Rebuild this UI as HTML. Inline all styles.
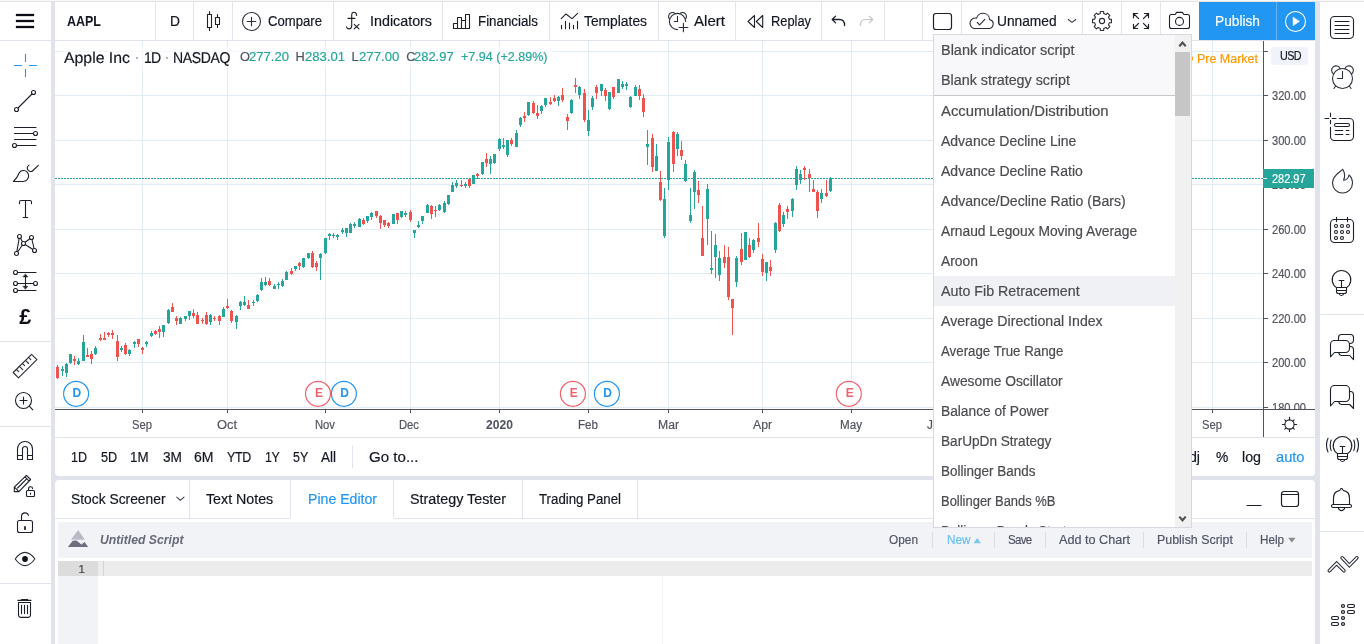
<!DOCTYPE html>
<html lang="en"><head><meta charset="utf-8"><title>AAPL 282.97 — TradingView</title>
<style>
html,body{margin:0;padding:0;}
body{width:1364px;height:644px;overflow:hidden;background:#e0e3eb;position:relative;font-family:"Liberation Sans", "DejaVu Sans", sans-serif;}
.t{position:absolute;white-space:nowrap;line-height:20px;-webkit-text-stroke:0.18px currentColor;}
svg{position:absolute;overflow:visible;}
</style></head>
<body>
<div style="position:absolute;left:0px;top:0px;width:1364px;height:1px;background:#f8f8f8;"></div>
<div style="position:absolute;left:0px;top:1px;width:1364px;height:1px;background:#e2e2e2;"></div>
<div style="position:absolute;left:0px;top:2px;width:51px;height:642px;background:#fff;"></div>
<div style="position:absolute;left:0px;top:40px;width:51px;height:1px;background:#e0e3eb;"></div>
<div style="position:absolute;left:0px;top:341px;width:51px;height:1px;background:#e0e3eb;"></div>
<div style="position:absolute;left:0px;top:426px;width:51px;height:1px;background:#e0e3eb;"></div>
<div style="position:absolute;left:0px;top:583px;width:51px;height:1px;background:#e0e3eb;"></div>
<div style="position:absolute;left:55px;top:2px;width:1260px;height:38px;background:#fff;"></div>
<div style="position:absolute;left:55px;top:40px;width:1260px;height:1px;background:#e0e3eb;"></div>
<div style="position:absolute;left:155px;top:2px;width:1px;height:38px;background:#e0e3eb;"></div>
<div style="position:absolute;left:193px;top:2px;width:1px;height:38px;background:#e0e3eb;"></div>
<div style="position:absolute;left:232px;top:2px;width:1px;height:38px;background:#e0e3eb;"></div>
<div style="position:absolute;left:333px;top:2px;width:1px;height:38px;background:#e0e3eb;"></div>
<div style="position:absolute;left:442px;top:2px;width:1px;height:38px;background:#e0e3eb;"></div>
<div style="position:absolute;left:549px;top:2px;width:1px;height:38px;background:#e0e3eb;"></div>
<div style="position:absolute;left:658px;top:2px;width:1px;height:38px;background:#e0e3eb;"></div>
<div style="position:absolute;left:735px;top:2px;width:1px;height:38px;background:#e0e3eb;"></div>
<div style="position:absolute;left:821px;top:2px;width:1px;height:38px;background:#e0e3eb;"></div>
<div style="position:absolute;left:884px;top:2px;width:1px;height:38px;background:#e0e3eb;"></div>
<div style="position:absolute;left:922px;top:2px;width:1px;height:38px;background:#e0e3eb;"></div>
<div style="position:absolute;left:961px;top:2px;width:1px;height:38px;background:#e0e3eb;"></div>
<div style="position:absolute;left:1082px;top:2px;width:1px;height:38px;background:#e0e3eb;"></div>
<div style="position:absolute;left:1121px;top:2px;width:1px;height:38px;background:#e0e3eb;"></div>
<div style="position:absolute;left:1160px;top:2px;width:1px;height:38px;background:#e0e3eb;"></div>
<div style="position:absolute;left:1199px;top:2px;width:77px;height:38px;background:#2196f3;"></div>
<div style="position:absolute;left:1276px;top:2px;width:1px;height:38px;background:#64b5f6;"></div>
<div style="position:absolute;left:1277px;top:2px;width:38px;height:38px;background:#2196f3;"></div>
<div style="position:absolute;left:55px;top:41px;width:1260px;height:396px;background:#fff;"></div>
<div style="position:absolute;left:55px;top:437px;width:1260px;height:1px;background:#e0e3eb;"></div>
<div style="position:absolute;left:55px;top:438px;width:1260px;height:38px;background:#fff;border-radius:0 0 4px 4px;"></div>
<div style="position:absolute;left:55px;top:480px;width:1260px;height:164px;background:#fff;border-radius:4px 4px 0 0;"></div>
<div style="position:absolute;left:55px;top:518px;width:235px;height:1px;background:#e0e3eb;"></div>
<div style="position:absolute;left:394px;top:518px;width:921px;height:1px;background:#e0e3eb;"></div>
<div style="position:absolute;left:189px;top:480px;width:1px;height:38px;background:#e0e3eb;"></div>
<div style="position:absolute;left:290px;top:480px;width:1px;height:38px;background:#e0e3eb;"></div>
<div style="position:absolute;left:393px;top:480px;width:1px;height:38px;background:#e0e3eb;"></div>
<div style="position:absolute;left:522px;top:480px;width:1px;height:38px;background:#e0e3eb;"></div>
<div style="position:absolute;left:637px;top:480px;width:1px;height:38px;background:#e0e3eb;"></div>
<div style="position:absolute;left:58px;top:522px;width:1254px;height:36px;background:#f1f3f6;"></div>
<div style="position:absolute;left:58px;top:561px;width:40px;height:83px;background:#f1f3f6;"></div>
<div style="position:absolute;left:58px;top:561px;width:1254px;height:15px;background:#ececec;"></div>
<div style="position:absolute;left:58px;top:561px;width:40px;height:15px;background:#dcdcdc;"></div>
<div style="position:absolute;left:103px;top:561px;width:1px;height:15px;background:#d4d4d4;"></div>
<div style="position:absolute;left:662px;top:576px;width:1px;height:68px;background:#f3f3f3;"></div>
<div style="position:absolute;left:1320px;top:2px;width:44px;height:642px;background:#fff;"></div>
<div style="position:absolute;left:1320px;top:314px;width:44px;height:1px;background:#e0e3eb;"></div>
<div style="position:absolute;left:1320px;top:531px;width:44px;height:1px;background:#e0e3eb;"></div>
<svg width="1260" height="397" style="left:55px;top:41px;overflow:hidden" viewBox="55 41 1260 397" shape-rendering="crispEdges">
<rect x="142" y="41" width="1" height="368" fill="#e1ecf2"/>
<rect x="227" y="41" width="1" height="368" fill="#e1ecf2"/>
<rect x="325" y="41" width="1" height="368" fill="#e1ecf2"/>
<rect x="410" y="41" width="1" height="368" fill="#e1ecf2"/>
<rect x="499" y="41" width="1" height="368" fill="#e1ecf2"/>
<rect x="588" y="41" width="1" height="368" fill="#e1ecf2"/>
<rect x="668" y="41" width="1" height="368" fill="#e1ecf2"/>
<rect x="762" y="41" width="1" height="368" fill="#e1ecf2"/>
<rect x="851" y="41" width="1" height="368" fill="#e1ecf2"/>
<rect x="936" y="41" width="1" height="368" fill="#e1ecf2"/>
<rect x="1030" y="41" width="1" height="368" fill="#e1ecf2"/>
<rect x="1123" y="41" width="1" height="368" fill="#e1ecf2"/>
<rect x="1212" y="41" width="1" height="368" fill="#e1ecf2"/>
<rect x="55" y="51" width="1208" height="1" fill="#e1ecf2"/>
<rect x="55" y="95" width="1208" height="1" fill="#e1ecf2"/>
<rect x="55" y="140" width="1208" height="1" fill="#e1ecf2"/>
<rect x="55" y="184" width="1208" height="1" fill="#e1ecf2"/>
<rect x="55" y="229" width="1208" height="1" fill="#e1ecf2"/>
<rect x="55" y="273" width="1208" height="1" fill="#e1ecf2"/>
<rect x="55" y="318" width="1208" height="1" fill="#e1ecf2"/>
<rect x="55" y="362" width="1208" height="1" fill="#e1ecf2"/>
<rect x="55" y="407" width="1208" height="1" fill="#e1ecf2"/>
<rect x="62" y="47" width="490" height="21" fill="#fff" fill-opacity="0.6"/>
<line x1="55" x2="1263" y1="178.5" y2="178.5" stroke="#26a69a" stroke-width="1" stroke-dasharray="2 1"/>
<path fill="#26a69a" d="M62 366h1v10h-1zM61 369h3v2h-3zM66 363h1v14h-1zM65 364h3v9h-3zM70 354h1v10h-1zM69 354h3v9h-3zM78 358h1v7h-1zM77 361h3v3h-3zM83 335h1v26h-1zM82 342h3v19h-3zM95 346h1v9h-1zM94 348h3v6h-3zM121 346h1v6h-1zM120 348h3v2h-3zM129 349h1v7h-1zM128 350h3v4h-3zM134 341h1v7h-1zM133 342h3v2h-3zM146 341h1v6h-1zM145 342h3v2h-3zM151 331h1v6h-1zM150 333h3v3h-3zM163 325h1v12h-1zM162 325h3v7h-3zM168 309h1v15h-1zM167 310h3v13h-3zM180 317h1v7h-1zM179 318h3v6h-3zM185 316h1v5h-1zM184 316h3v3h-3zM189 311h1v9h-1zM188 311h3v5h-3zM210 314h1v11h-1zM209 315h3v7h-3zM223 307h1v10h-1zM222 309h3v8h-3zM236 315h1v14h-1zM235 316h3v6h-3zM240 301h1v9h-1zM239 302h3v4h-3zM244 296h1v10h-1zM243 302h3v3h-3zM253 300h1v6h-1zM252 302h3v1h-3zM257 294h1v8h-1zM256 295h3v6h-3zM261 278h1v13h-1zM260 282h3v8h-3zM265 277h1v9h-1zM264 282h3v3h-3zM274 284h1v5h-1zM273 286h3v3h-3zM278 282h1v7h-1zM277 284h3v1h-3zM282 279h1v8h-1zM281 281h3v5h-3zM286 271h1v9h-1zM285 272h3v8h-3zM295 266h1v5h-1zM294 266h3v3h-3zM303 258h1v10h-1zM302 258h3v9h-3zM308 253h1v6h-1zM307 253h3v5h-3zM320 253h1v27h-1zM319 254h3v4h-3zM325 238h1v16h-1zM324 238h3v15h-3zM329 233h1v7h-1zM328 234h3v2h-3zM333 233h1v5h-1zM332 235h3v1h-3zM337 234h1v6h-1zM336 235h3v2h-3zM342 228h1v6h-1zM341 230h3v2h-3zM346 228h1v9h-1zM345 228h3v5h-3zM350 223h1v10h-1zM349 224h3v9h-3zM354 222h1v6h-1zM353 224h3v2h-3zM359 218h1v9h-1zM358 219h3v8h-3zM367 216h1v7h-1zM366 216h3v5h-3zM371 212h1v8h-1zM370 213h3v4h-3zM393 214h1v10h-1zM392 214h3v10h-3zM401 211h1v7h-1zM400 211h3v6h-3zM405 211h1v6h-1zM404 213h3v2h-3zM414 230h1v8h-1zM413 230h3v3h-3zM418 221h1v7h-1zM417 225h3v2h-3zM422 216h1v8h-1zM421 216h3v5h-3zM427 204h1v9h-1zM426 205h3v8h-3zM439 204h1v7h-1zM438 205h3v5h-3zM444 201h1v12h-1zM443 203h3v9h-3zM448 195h1v10h-1zM447 195h3v9h-3zM452 182h1v10h-1zM451 185h3v7h-3zM456 180h1v8h-1zM455 183h3v3h-3zM465 182h1v6h-1zM464 184h3v2h-3zM473 175h1v9h-1zM472 175h3v9h-3zM482 162h1v13h-1zM481 162h3v12h-3zM490 156h1v18h-1zM489 159h3v5h-3zM494 154h1v10h-1zM493 154h3v9h-3zM499 138h1v13h-1zM498 139h3v10h-3zM503 138h1v11h-1zM502 145h3v2h-3zM507 140h1v17h-1zM506 140h3v15h-3zM516 130h1v17h-1zM515 133h3v14h-3zM520 117h1v10h-1zM519 118h3v7h-3zM528 102h1v14h-1zM527 102h3v13h-3zM541 105h1v9h-1zM540 106h3v5h-3zM545 98h1v9h-1zM544 98h3v7h-3zM558 96h1v10h-1zM557 97h3v4h-3zM571 99h1v15h-1zM570 100h3v13h-3zM579 86h1v13h-1zM578 87h3v8h-3zM588 110h1v26h-1zM587 120h3v11h-3zM592 96h1v14h-1zM591 98h3v9h-3zM601 84h1v12h-1zM600 84h3v7h-3zM609 92h1v18h-1zM608 92h3v17h-3zM618 79h1v14h-1zM617 79h3v14h-3zM622 81h1v8h-1zM621 84h3v3h-3zM626 82h1v8h-1zM625 84h3v2h-3zM630 96h1v12h-1zM629 97h3v10h-3zM635 85h1v11h-1zM634 87h3v9h-3zM647 130h1v35h-1zM646 144h3v3h-3zM656 144h1v27h-1zM655 156h3v15h-3zM664 188h1v50h-1zM663 199h3v37h-3zM668 137h1v53h-1zM667 142h3v38h-3zM677 132h1v24h-1zM676 134h3v15h-3zM685 160h1v22h-1zM684 164h3v17h-3zM690 188h1v35h-1zM689 215h3v6h-3zM694 170h1v39h-1zM693 172h3v20h-3zM707 184h1v61h-1zM706 189h3v30h-3zM711 231h1v43h-1zM710 268h3v2h-3zM715 234h1v44h-1zM714 245h3v12h-3zM719 251h1v30h-1zM718 258h3v17h-3zM736 256h1v31h-1zM735 258h3v24h-3zM745 232h1v28h-1zM744 232h3v28h-3zM753 239h1v14h-1zM752 240h3v10h-3zM766 262h1v19h-1zM765 262h3v11h-3zM775 222h1v31h-1zM774 223h3v27h-3zM783 212h1v15h-1zM782 215h3v9h-3zM792 198h1v19h-1zM791 199h3v12h-3zM796 166h1v24h-1zM795 169h3v16h-3zM800 170h1v14h-1zM799 174h3v6h-3zM821 189h1v14h-1zM820 193h3v6h-3zM830 177h1v15h-1zM829 178h3v13h-3z"/>
<path fill="#ef5350" d="M57 365h1v14h-1zM56 367h3v11h-3zM74 356h1v9h-1zM73 359h3v2h-3zM87 348h1v9h-1zM86 355h3v2h-3zM91 351h1v13h-1zM90 354h3v5h-3zM100 334h1v7h-1zM99 338h3v2h-3zM104 332h1v8h-1zM103 338h3v2h-3zM108 332h1v5h-1zM107 333h3v2h-3zM112 330h1v9h-1zM111 333h3v2h-3zM117 335h1v26h-1zM116 341h3v16h-3zM125 343h1v12h-1zM124 345h3v9h-3zM138 339h1v8h-1zM137 339h3v5h-3zM142 347h1v7h-1zM141 348h3v2h-3zM155 330h1v5h-1zM154 331h3v3h-3zM159 326h1v12h-1zM158 329h3v3h-3zM172 303h1v9h-1zM171 307h3v5h-3zM176 316h1v9h-1zM175 318h3v3h-3zM193 309h1v9h-1zM192 313h3v3h-3zM197 312h1v12h-1zM196 315h3v9h-3zM202 318h1v6h-1zM201 320h3v1h-3zM206 312h1v13h-1zM205 315h3v9h-3zM214 316h1v5h-1zM213 318h3v1h-3zM219 315h1v10h-1zM218 316h3v5h-3zM227 299h1v10h-1zM226 306h3v2h-3zM231 310h1v13h-1zM230 311h3v10h-3zM248 300h1v9h-1zM247 305h3v4h-3zM269 278h1v8h-1zM268 281h3v4h-3zM291 268h1v7h-1zM290 271h3v3h-3zM299 262h1v8h-1zM298 263h3v3h-3zM312 251h1v17h-1zM311 253h3v14h-3zM316 261h1v10h-1zM315 263h3v4h-3zM363 218h1v7h-1zM362 220h3v4h-3zM376 211h1v7h-1zM375 211h3v5h-3zM380 215h1v14h-1zM379 216h3v7h-3zM384 220h1v7h-1zM383 220h3v5h-3zM388 222h1v6h-1zM387 223h3v3h-3zM397 213h1v11h-1zM396 213h3v7h-3zM410 210h1v12h-1zM409 212h3v8h-3zM431 205h1v14h-1zM430 206h3v8h-3zM435 206h1v11h-1zM434 210h3v1h-3zM461 180h1v7h-1zM460 185h3v1h-3zM469 179h1v9h-1zM468 179h3v7h-3zM477 173h1v6h-1zM476 174h3v2h-3zM486 153h1v14h-1zM485 159h3v4h-3zM511 138h1v8h-1zM510 140h3v4h-3zM524 112h1v10h-1zM523 116h3v2h-3zM533 101h1v13h-1zM532 103h3v10h-3zM537 105h1v14h-1zM536 113h3v3h-3zM550 97h1v8h-1zM549 102h3v2h-3zM554 95h1v7h-1zM553 98h3v3h-3zM562 88h1v14h-1zM561 95h3v5h-3zM567 114h1v16h-1zM566 117h3v4h-3zM575 78h1v15h-1zM574 85h3v2h-3zM584 89h1v33h-1zM583 93h3v27h-3zM596 85h1v14h-1zM595 87h3v6h-3zM605 88h1v13h-1zM604 90h3v6h-3zM613 87h1v12h-1zM612 87h3v10h-3zM639 85h1v15h-1zM638 89h3v7h-3zM643 94h1v23h-1zM642 98h3v14h-3zM652 134h1v38h-1zM651 138h3v29h-3zM660 171h1v30h-1zM659 182h3v18h-3zM673 131h1v41h-1zM672 132h3v32h-3zM681 141h1v19h-1zM680 150h3v6h-3zM698 181h1v22h-1zM697 190h3v5h-3zM702 206h1v50h-1zM701 238h3v18h-3zM724 245h1v23h-1zM723 257h3v6h-3zM728 247h1v53h-1zM727 257h3v40h-3zM732 299h1v36h-1zM731 299h3v9h-3zM741 233h1v32h-1zM740 249h3v13h-3zM749 238h1v20h-1zM748 245h3v12h-3zM758 223h1v24h-1zM757 238h3v4h-3zM762 254h1v22h-1zM761 259h3v13h-3zM770 260h1v16h-1zM769 267h3v4h-3zM779 203h1v29h-1zM778 205h3v26h-3zM787 206h1v13h-1zM786 209h3v3h-3zM804 166h1v14h-1zM803 168h3v2h-3zM809 169h1v23h-1zM808 174h3v4h-3zM813 180h1v12h-1zM812 189h3v3h-3zM817 190h1v28h-1zM816 192h3v19h-3zM826 180h1v17h-1zM825 193h3v3h-3z"/>
<rect x="1263" y="41" width="1" height="396" fill="#50535e"/>
<rect x="55" y="409" width="1260" height="1" fill="#50535e"/>
<rect x="1264" y="51" width="4" height="1" fill="#50535e"/>
<rect x="1264" y="95" width="4" height="1" fill="#50535e"/>
<rect x="1264" y="140" width="4" height="1" fill="#50535e"/>
<rect x="1264" y="184" width="4" height="1" fill="#50535e"/>
<rect x="1264" y="229" width="4" height="1" fill="#50535e"/>
<rect x="1264" y="273" width="4" height="1" fill="#50535e"/>
<rect x="1264" y="318" width="4" height="1" fill="#50535e"/>
<rect x="1264" y="362" width="4" height="1" fill="#50535e"/>
<rect x="1264" y="407" width="4" height="1" fill="#50535e"/>
<rect x="142" y="410" width="1" height="3" fill="#50535e"/>
<rect x="227" y="410" width="1" height="3" fill="#50535e"/>
<rect x="325" y="410" width="1" height="3" fill="#50535e"/>
<rect x="410" y="410" width="1" height="3" fill="#50535e"/>
<rect x="499" y="410" width="1" height="3" fill="#50535e"/>
<rect x="588" y="410" width="1" height="3" fill="#50535e"/>
<rect x="668" y="410" width="1" height="3" fill="#50535e"/>
<rect x="762" y="410" width="1" height="3" fill="#50535e"/>
<rect x="851" y="410" width="1" height="3" fill="#50535e"/>
<rect x="936" y="410" width="1" height="3" fill="#50535e"/>
<rect x="1030" y="410" width="1" height="3" fill="#50535e"/>
<rect x="1123" y="410" width="1" height="3" fill="#50535e"/>
<rect x="1212" y="410" width="1" height="3" fill="#50535e"/>
</svg>
<svg width="1260" height="397" style="left:55px;top:41px;" viewBox="55 41 1260 397">
<circle cx="76.1" cy="393.8" r="12.5" fill="#fff" stroke="#2196f3" stroke-width="1.2"/>
<circle cx="318" cy="393.8" r="12.5" fill="#fff" stroke="#f0616d" stroke-width="1.2"/>
<circle cx="343.9" cy="393.8" r="12.5" fill="#fff" stroke="#2196f3" stroke-width="1.2"/>
<circle cx="572.9" cy="393.8" r="12.5" fill="#fff" stroke="#f0616d" stroke-width="1.2"/>
<circle cx="606.9" cy="393.8" r="12.5" fill="#fff" stroke="#2196f3" stroke-width="1.2"/>
<circle cx="848.8" cy="393.8" r="12.5" fill="#fff" stroke="#f0616d" stroke-width="1.2"/>
</svg>
<div style="position:absolute;left:136px;top:57px;width:2px;height:2px;background:#b5b7be;"></div>
<div style="position:absolute;left:166px;top:57px;width:2px;height:2px;background:#b5b7be;"></div>
<div style="position:absolute;left:1271px;top:47px;width:37px;height:18px;background:#f0f3fa;border-radius:4px;"></div>
<div style="position:absolute;left:352px;top:446px;width:1px;height:22px;background:#e0e3eb;"></div>
<div style="position:absolute;left:932px;top:532px;width:1px;height:16px;background:#dcdde0;"></div>
<div style="position:absolute;left:994px;top:532px;width:1px;height:16px;background:#dcdde0;"></div>
<div style="position:absolute;left:1045px;top:532px;width:1px;height:16px;background:#dcdde0;"></div>
<div style="position:absolute;left:1143px;top:532px;width:1px;height:16px;background:#dcdde0;"></div>
<div style="position:absolute;left:1246px;top:532px;width:1px;height:16px;background:#dcdde0;"></div>
<div style="position:absolute;left:933px;top:34px;width:259px;height:494px;background:#fff;box-sizing:border-box;border:1px solid #d6d9df;z-index:10;"></div>
<div style="position:absolute;left:934px;top:35px;width:241px;height:60px;background:#f8f8fa;z-index:10;"></div>
<div style="position:absolute;left:934px;top:95px;width:241px;height:1px;background:#c9c9c9;z-index:10;"></div>
<div style="position:absolute;left:934px;top:276px;width:241px;height:30px;background:#f0f1f5;z-index:10;"></div>
<div style="position:absolute;left:1175px;top:35px;width:16px;height:492px;background:#f1f1f1;z-index:10;"></div>
<div style="position:absolute;left:1175px;top:52px;width:15px;height:64px;background:#c6c6c6;z-index:10;"></div>
<div style="position:absolute;left:1263px;top:169px;width:51px;height:19px;background:#26a69a;z-index:5;"></div>
<div style="position:absolute;left:1263px;top:178px;width:4px;height:1px;background:#fff;z-index:5;"></div>
<svg width="1364" height="644" viewBox="0 0 1364 644" style="left:0;top:0;z-index:3;pointer-events:none"><path d="M16 14h18v2h-18zM16 20h18v2h-18zM16 26h18v2h-18z" fill="#0c0f18" stroke="#0c0f18" stroke-width="0.3" stroke-linejoin="round"/>
<path d="M25.5 54v8M25.5 69v8M14 65.5h8M29 65.5h8" fill="none" stroke="#2196f3" stroke-width="1.1" stroke-linecap="butt"/>
<g transform="translate(11 87)" fill="none" stroke="#1c202b" stroke-width="1.1" stroke-linecap="round" stroke-linejoin="round" ><path d="M7 21L21 7"/><circle cx="22.5" cy="5.5" r="2"/><circle cx="5.5" cy="22.5" r="2"/></g>
<g transform="translate(11 123)" fill="none" stroke="#1c202b" stroke-width="1.1" stroke-linecap="round" stroke-linejoin="round" ><path d="M3.5 4.5h21.5M3.5 10.5h19M3.5 16.5h21.5M5.5 22.5h19.5"/><circle cx="24.5" cy="10.5" r="2" fill="#fff"/><circle cx="3.5" cy="22.5" r="2" fill="#fff"/></g>
<g transform="translate(11 159)" fill="none" stroke="#1c202b" stroke-width="1.1" stroke-linecap="round" stroke-linejoin="round" ><path d="M2.4 22.5C5 20 7 17 8.3 13.7C9.3 11.8 11 11.5 12.5 11.5C15.5 11.5 17.6 14 17.6 17C17.6 20 15 22.5 12 22.5Z"/><path d="M18 6.1C16 7.4 15.6 9.4 17.3 11.3C18.8 12.9 20.5 13 22 11.5L27.3 6.4"/></g>
<g transform="translate(11 195)" fill="none" stroke="#1c202b" stroke-width="1.1" stroke-linecap="round" stroke-linejoin="round" ><path d="M8.5 8.8V7Q8.5 5.5 10 5.5H19Q20.5 5.5 20.5 7V8.8M14.5 5.5V22.5M12.2 22.5H16.8"/></g>
<g transform="translate(11 231)" fill="none" stroke="#1c202b" stroke-width="1.1" stroke-linecap="round" stroke-linejoin="round" ><path d="M8.5 5.5L5.5 22.5L12.5 12.5L8.5 5.5M12.5 12.5L20.5 6.5L23.5 19.5L12.5 12.5"/><circle cx="8.5" cy="5.5" r="2" fill="#fff"/><circle cx="20.5" cy="6.5" r="2" fill="#fff"/><circle cx="12.5" cy="12.5" r="2" fill="#fff"/><circle cx="23.5" cy="19.5" r="2" fill="#fff"/><circle cx="5.5" cy="22.5" r="2" fill="#fff"/></g>
<g transform="translate(11 267)" fill="none" stroke="#1c202b" stroke-width="1.1" stroke-linecap="round" stroke-linejoin="round" ><path d="M6.5 5.5H25M6.5 16.5H22.5M6.5 23.5H25M14.5 9V20"/><path d="M14.5 7.2L16.8 9.9H12.2ZM14.5 22L16.8 19.3H12.2Z" fill="#1c202b" stroke-width="0.6"/><circle cx="4.5" cy="5.5" r="2" fill="#fff"/><circle cx="4.5" cy="16.5" r="2" fill="#fff"/><circle cx="24.5" cy="16.5" r="2" fill="#fff"/><circle cx="4.5" cy="23.5" r="2" fill="#fff"/></g>
<g transform="translate(11 351)" fill="none" stroke="#2a2e39" stroke-width="1.1" stroke-linecap="round" stroke-linejoin="round" ><path d="M20.6 3.3L25.9 8.6L7.5 26.8L2.2 21.5Z"/><path d="M5.4 18.5L7.7 20.7M8.4 15.4L11.7 18.6M11.4 12.3L13.6 14.6M14.5 9.4L17.6 12.5M17.6 6.4L19.8 8.6"/></g>
<g transform="translate(11 387)" fill="none" stroke="#1c202b" stroke-width="1.1" stroke-linecap="round" stroke-linejoin="round" ><circle cx="12.5" cy="13.5" r="8"/><path d="M9 13.5h7M12.5 10v7M18.3 19.1L21.8 22.9"/></g>
<g transform="translate(11 436)" fill="none" stroke="#1c202b" stroke-width="1.1" stroke-linecap="round" stroke-linejoin="round" ><path d="M6.5 23.5V13A7.5 7.5 0 0 1 21.5 13V23.5H16.5V13A2.5 2.5 0 0 0 11.5 13V23.5ZM6.5 19.5H11.5M16.5 19.5H21.5"/></g>
<g transform="translate(11 472)" fill="none" stroke="#1c202b" stroke-width="1.1" stroke-linecap="round" stroke-linejoin="round" ><path d="M15.4 3.3L19.6 7.5L7.9 19.6H3.3V15.2ZM3.5 15.2L7.9 19.6M6.6 16L15.2 7.3M13.9 4.8L17.9 8.9"/><rect x="15.5" y="18.5" width="8" height="6" rx="1"/><path d="M17.6 18.5V17A2 2 0 0 1 21.6 16.6M19.5 21v1.2"/></g>
<g transform="translate(11 508)" fill="none" stroke="#1c202b" stroke-width="1.1" stroke-linecap="round" stroke-linejoin="round" ><rect x="6.5" y="12.5" width="15" height="12" rx="2"/><path d="M10.5 12.5V8A3.6 3.6 0 0 1 17.5 7.4"/><path d="M14 19v2.2" stroke-width="1.8"/></g>
<g transform="translate(11 544)" fill="none" stroke="#2a2e39" stroke-width="1.1" stroke-linecap="round" stroke-linejoin="round" ><path d="M4.2 15Q9 8.4 14 8.4Q19 8.4 23.9 15Q19 21.6 14 21.6Q9 21.6 4.2 15Z"/><circle cx="14" cy="15" r="2.9" fill="#10131c" stroke="none"/></g>
<g transform="translate(11 594)" fill="none" stroke="#1c202b" stroke-width="1.1" stroke-linecap="round" stroke-linejoin="round" ><path d="M7 6.4H20M10.6 5.6H16.6" /><path d="M7.5 8.5H19.5V21A2.4 2.4 0 0 1 17.1 23.4H9.9A2.4 2.4 0 0 1 7.5 21ZM10.5 11.2V19.6M13.5 11.2V19.6M16.5 11.2V19.6"/></g>
<g transform="translate(199 7)" fill="none" stroke="#1c202b" stroke-width="1.1" stroke-linecap="round" stroke-linejoin="round" stroke-linecap="butt"><rect x="8.5" y="7.5" width="4" height="13"/><path d="M10.5 4.5v3M10.5 20.5v3M18.5 7.5v3M18.5 17.5v3"/><rect x="16.5" y="10.5" width="4" height="7"/></g>
<g transform="translate(0 0)" fill="none" stroke="#2a2e39" stroke-width="1.1" stroke-linecap="round" stroke-linejoin="round" ><circle cx="251.5" cy="21.5" r="9"/><path d="M247.2 21.5h8.6M251.5 17.2v8.6"/></g>
<g transform="translate(0 0)" fill="none" stroke="#1c202b" stroke-width="1.1" stroke-linecap="round" stroke-linejoin="round" ><path d="M356.7 15.4C356.5 13 355.2 12.2 354 12.2C352.6 12.2 351.7 13.2 351.7 15V25.8C351.7 27.8 350.6 28.9 349.1 28.9C347.8 28.9 346.8 28 346.5 26.8M348 18.4H354.8M354.2 24.3L359 28.9M359 24.3L354.2 28.9"/></g>
<g transform="translate(0 0)" fill="none" stroke="#1c202b" stroke-width="1.1" stroke-linecap="round" stroke-linejoin="round" stroke-linecap="square" stroke-linejoin="miter"><path d="M453.5 28.5V23.5H457.5V28.5M457.5 23.5V17.5H461.5V28.5M461.5 20.5H465.5V28.5M465.5 20.5V14.5H469.5V28.5H453.5"/></g>
<g transform="translate(0 0)" fill="none" stroke="#1c202b" stroke-width="1.1" stroke-linecap="round" stroke-linejoin="round" stroke-linecap="butt"><path d="M561.2 18.6L565.5 14.3Q565.9 14 566.3 14.3L571.6 18.4Q572 18.7 572.4 18.4L577.6 13.3M561.5 25.2V28.8M565.5 21.2V28.8M569.5 23V28.8M573.5 25.2V28.8M577.5 21.2V28.8"/></g>
<g transform="translate(0 0)" fill="none" stroke="#2a2e39" stroke-width="1.1" stroke-linecap="round" stroke-linejoin="round" ><path d="M685.6 21.5A8.1 8.1 0 1 0 677.5 29.6"/><path d="M669.72 19.24A3.9 3.9 0 1 1 675.24 13.72M679.76 13.72A3.9 3.9 0 1 1 685.28 19.24"/><path d="M677.5 16.4V21.5H674.3M679 27.5H687.8M683.4 23.3V31.8"/></g>
<g transform="translate(0 0)" fill="none" stroke="#1c202b" stroke-width="1.1" stroke-linecap="round" stroke-linejoin="round" stroke-linejoin="miter"><path d="M748 21.5L754.5 15.5V27.5ZM756.3 21.5L762.7 15.5V27.5Z"/></g>
<g transform="translate(0 0)" fill="none" stroke="#1c202b" stroke-width="1.3" stroke-linecap="round" stroke-linejoin="round" ><path d="M835.6 16.1L832.2 19.5L835.6 22.9M832.4 19.5H839.6Q844.6 19.5 844.6 25.6"/></g>
<g transform="translate(0 0)" fill="none" stroke="#c3c5cb" stroke-width="1.2" stroke-linecap="round" stroke-linejoin="round" ><path d="M869.3 16.1L872.7 19.5L869.3 22.9M872.5 19.5H865.3Q860.3 19.5 860.3 25.6"/></g>
<g transform="translate(0 0)" fill="none" stroke="#1c202b" stroke-width="1.2" stroke-linecap="round" stroke-linejoin="round" ><rect x="933.5" y="13.5" width="18" height="16" rx="2.5"/></g>
<g transform="translate(0 0)" fill="none" stroke="#2a2e39" stroke-width="1.1" stroke-linecap="round" stroke-linejoin="round" ><path d="M974 28.5H988.5A4.5 4.5 0 0 0 989.6 19.6A6.6 6.6 0 0 0 976.6 18.2A5 5 0 0 0 974 28.5Z"/><path d="M977.3 22.5L979.6 24.8L984.8 19.3"/></g>
<g transform="translate(0 0)" fill="none" stroke="#3a3e4a" stroke-width="1.1" stroke-linecap="round" stroke-linejoin="round" ><path d="M1068.3 19.5L1072 22.4L1075.8 19.5"/></g>
<g transform="translate(0 0)" fill="none" stroke="#2a2e39" stroke-width="1.1" stroke-linecap="round" stroke-linejoin="round" ><path d="M1100.35 11.54L1103.65 11.54L1103.77 13.61L1105.97 14.52L1107.52 13.15L1109.85 15.48L1108.48 17.03L1109.39 19.23L1111.46 19.35L1111.46 22.65L1109.39 22.77L1108.48 24.97L1109.85 26.52L1107.52 28.85L1105.97 27.48L1103.77 28.39L1103.65 30.46L1100.35 30.46L1100.23 28.39L1098.03 27.48L1096.48 28.85L1094.15 26.52L1095.52 24.97L1094.61 22.77L1092.54 22.65L1092.54 19.35L1094.61 19.23L1095.52 17.03L1094.15 15.48L1096.48 13.15L1098.03 14.52L1100.23 13.61Z"/><circle cx="1102" cy="21" r="2.6"/></g>
<g transform="translate(0 0)" fill="none" stroke="#1c202b" stroke-width="1.2" stroke-linecap="round" stroke-linejoin="round" stroke-linejoin="miter" stroke-linecap="butt"><path d="M1137.6 13.5H1133.5V17.7M1133.5 13.5L1138.6 18.6M1144.4 13.5H1148.5V17.7M1148.5 13.5L1143.4 18.6M1133.5 24.3V28.5H1137.6M1133.5 28.5L1138.6 23.4M1148.5 24.3V28.5H1144.4M1148.5 28.5L1143.4 23.4"/></g>
<g transform="translate(0 0)" fill="none" stroke="#1c202b" stroke-width="1.1" stroke-linecap="round" stroke-linejoin="round" ><path d="M1171.5 14.5H1175.2L1176.6 12.4H1182.4L1183.8 14.5H1187.5A2 2 0 0 1 1189.5 16.5V26.5A2 2 0 0 1 1187.5 28.5H1171.5A2 2 0 0 1 1169.5 26.5V16.5A2 2 0 0 1 1171.5 14.5Z"/><circle cx="1179.5" cy="21.4" r="4"/></g>
<g transform="translate(0 0)" fill="none" stroke="#1c202b" stroke-width="1.1" stroke-linecap="round" stroke-linejoin="round" ><circle cx="1295.5" cy="21.5" r="10" stroke="#fff"/><path d="M1293 17.3V25.8L1299.4 21.5Z" fill="#fff" stroke="#fff" stroke-width="0.5"/></g>
<g transform="translate(0 0)" fill="none" stroke="#1c202b" stroke-width="1.1" stroke-linecap="round" stroke-linejoin="round" ><rect x="1330.5" y="16.5" width="23" height="22" rx="4"/><path d="M1335 21.5h14M1335 25.5h14M1335 29.5h14M1335 33.5h14"/></g>
<g transform="translate(0 0)" fill="none" stroke="#2a2e39" stroke-width="1.1" stroke-linecap="round" stroke-linejoin="round" ><circle cx="1342.5" cy="78.5" r="10"/><path d="M1333.58 73.98A4.4 4.4 0 1 1 1340.13 68.78M1344.87 68.78A4.4 4.4 0 1 1 1351.42 73.98M1342.5 71.4V78.5H1337.4M1335.5 86.2L1334 88.5M1349.5 86.2L1351 88.5"/></g>
<g transform="translate(0 0)" fill="none" stroke="#1c202b" stroke-width="1.1" stroke-linecap="round" stroke-linejoin="round" ><path d="M1330.5 113V116.6M1330.5 120.2V123.8M1325 118.5H1328.8M1332.2 118.5H1336M1339.3 118.5H1349.5A4 4 0 0 1 1353.5 122.5V136.5A4 4 0 0 1 1349.5 140.5H1334.5A4 4 0 0 1 1330.5 136.5V127.2"/><rect x="1334.5" y="123.5" width="15" height="3" rx="1.5"/><path d="M1335.2 130.5H1342.8M1346.2 130.5H1349M1335.2 134.5H1342.8M1346.2 134.5H1349"/></g>
<g transform="translate(0 0)" fill="none" stroke="#2a2e39" stroke-width="1.1" stroke-linecap="round" stroke-linejoin="round" ><path d="M1342.7 169.3C1339.5 172.6 1332.5 175.5 1332.5 183A10 10 0 0 0 1352.5 183C1352.5 179.5 1351 176.8 1349 175C1348.4 178 1346.6 180 1343.6 180.3C1345 177 1345 173 1342.7 169.3Z"/></g>
<g transform="translate(0 0)" fill="none" stroke="#1c202b" stroke-width="1.1" stroke-linecap="round" stroke-linejoin="round" ><rect x="1330.5" y="219.5" width="23" height="23" rx="4"/><path d="M1336.5 217.2V221.6M1347.5 217.2V221.6"/><circle cx="1336" cy="226" r="1.5"/><circle cx="1342" cy="226" r="1.5"/><circle cx="1348" cy="226" r="1.5"/><circle cx="1336" cy="232" r="1.5"/><circle cx="1342" cy="232" r="1.5"/><circle cx="1348" cy="232" r="1.5"/><circle cx="1336" cy="238" r="1.5"/><circle cx="1342" cy="238" r="1.5"/></g>
<g transform="translate(0 0)" fill="none" stroke="#1c202b" stroke-width="1.1" stroke-linecap="round" stroke-linejoin="round" ><path d="M1336.5 287.6A9.3 9.3 0 1 1 1346.5 287.6"/><path d="M1336.5 287.5H1346.5V291.5Q1346.5 293.5 1344.5 293.5H1338.5Q1336.5 293.5 1336.5 291.5ZM1336.5 290.5H1346.5M1339.2 293.5Q1339.5 295.5 1341.5 295.5Q1343.5 295.5 1343.8 293.5"/><path d="M1339.1 280.5H1343.9M1341.5 280.5V287.5"/></g>
<g transform="translate(0 0)" fill="none" stroke="#1c202b" stroke-width="1.1" stroke-linecap="round" stroke-linejoin="round" ><path d="M1334.5 340.5H1345.5A4 4 0 0 1 1349.5 344.5V348.5A4 4 0 0 1 1345.5 352.5H1334.5L1330.5 356.8V344.5A4 4 0 0 1 1334.5 340.5Z"/><path d="M1338.5 340.5V337.5A3 3 0 0 1 1341.5 334.5H1350.5A3 3 0 0 1 1353.5 337.5V340A3.5 3.5 0 0 1 1350 343.5H1349.5"/><path d="M1349.5 346.5H1350.5A3 3 0 0 1 1353.5 349.5V359.6L1349.7 355.5H1341.5Q1339.5 355.5 1338.6 352.7"/></g>
<g transform="translate(0 0)" fill="none" stroke="#1c202b" stroke-width="1.1" stroke-linecap="round" stroke-linejoin="round" ><path d="M1334.5 385.5H1345.5A4 4 0 0 1 1349.5 389.5V397.5A4 4 0 0 1 1345.5 401.5H1334.5L1330.5 405.8V389.5A4 4 0 0 1 1334.5 385.5Z"/><path d="M1349.5 391.5H1350.5A3 3 0 0 1 1353.5 394.5V408.5L1349.7 404.5H1341.5Q1339.5 404.5 1338.6 401.7"/></g>
<g transform="translate(0 0)" fill="none" stroke="#1c202b" stroke-width="1.1" stroke-linecap="round" stroke-linejoin="round" ><path d="M1337.5 453.6A9.3 9.3 0 1 1 1347.5 453.6"/><path d="M1337.5 453.5H1347.5V457.5Q1347.5 459.5 1345.5 459.5H1339.5Q1337.5 459.5 1337.5 457.5ZM1337.5 456.5H1347.5M1340.2 459.5Q1340.5 461.5 1342.5 461.5Q1344.5 461.5 1344.8 459.5"/><path d="M1340.1 446.5H1344.9M1342.5 446.5V453.5"/><path d="M1331.2 440Q1329.2 445.3 1331.2 450.6M1328 438.3Q1325 445.3 1328 452M1353.8 440Q1355.8 445.3 1353.8 450.6M1357 438.3Q1360 445.3 1357 452"/></g>
<g transform="translate(0 0)" fill="none" stroke="#1c202b" stroke-width="1.1" stroke-linecap="round" stroke-linejoin="round" ><path d="M1333.5 504.5V498C1333.5 494 1336 491.2 1339.3 490.6C1340 490.4 1340.2 489.9 1340.4 489.3A1.2 1.2 0 0 1 1342.6 489.3C1342.8 489.9 1343 490.4 1343.7 490.6C1347 491.2 1349.5 494 1349.5 498V504.5"/><rect x="1331.5" y="504.5" width="20" height="3" rx="1.5"/><path d="M1338.2 507.8Q1339.2 510.6 1341.5 510.6Q1343.8 510.6 1344.8 507.8"/></g>
<g fill="none" stroke-linecap="round" stroke-linejoin="miter"><path d="M1329.3 570.8L1336.6 563.4L1343.9 570.8" stroke="#2a2e39" stroke-width="3.6"/><path d="M1329.3 570.8L1336.6 563.4L1343.9 570.8" stroke="#fff" stroke-width="1.5"/><path d="M1342.1 557.8L1349.4 565.4L1356.9 557.8" stroke="#2a2e39" stroke-width="3.6"/><path d="M1342.1 557.8L1349.4 565.4L1356.9 557.8" stroke="#fff" stroke-width="1.5"/></g>
<g transform="translate(0 0)" fill="none" stroke="#1c202b" stroke-width="1.2" stroke-linecap="round" stroke-linejoin="round" ><circle cx="1343" cy="606" r="1.5" fill="#d0d1d6"/><rect x="1347.5" y="604.5" width="7" height="3" rx="1.5"/><circle cx="1343" cy="612" r="1.5" fill="#d0d1d6"/><rect x="1347.5" y="610.5" width="7" height="3" rx="1.5"/><circle cx="1343" cy="618" r="1.5" fill="#d0d1d6"/><rect x="1331.5" y="616.5" width="7" height="3" rx="1.5"/><circle cx="1343" cy="624" r="1.5" fill="#d0d1d6"/><rect x="1331.5" y="622.5" width="7" height="3" rx="1.5"/></g>
<g transform="translate(0 0)" fill="none" stroke="#1c202b" stroke-width="1.1" stroke-linecap="round" stroke-linejoin="round" ><circle cx="1289.5" cy="424.5" r="4.6"/><path d="M1294.30 424.50L1296.60 424.50M1292.89 427.89L1294.17 429.17M1289.50 429.30L1289.50 431.60M1286.11 427.89L1284.83 429.17M1284.70 424.50L1282.40 424.50M1286.11 421.11L1284.83 419.83M1289.50 419.70L1289.50 417.40M1292.89 421.11L1294.17 419.83"/></g>
<g transform="translate(0 0)" fill="none" stroke="#1c202b" stroke-width="1.2" stroke-linecap="round" stroke-linejoin="round" ><path d="M1247 505.5H1261"/><rect x="1281.5" y="491.5" width="17" height="15" rx="2.5"/><path d="M1281.5 494.5H1298.5"/></g>
<g transform="translate(0 0)" fill="none" stroke="#3a3e4a" stroke-width="1.1" stroke-linecap="round" stroke-linejoin="round" ><path d="M176.8 497.2L180.3 500.3L184 497.2"/></g>
<path d="M78.1 529.9L84.9 539.7H71Z" fill="#b8bac6"/><path d="M67.9 547L72.9 540.6Q74.8 539.4 76.7 540.3L81.4 544L84.3 541.8L88.2 547Z" fill="#6b6e7c"/><path d="M72.9 540.6Q74.8 539.4 76.7 540.3L81.4 544L84.3 541.8" fill="none" stroke="#f1f3f6" stroke-width="0.9"/>
<path d="M973.5 543.2L977.2 538L981 543.2Z" fill="#7cc6ef"/><path d="M1288.2 537.8H1295.6L1291.9 542.6Z" fill="#8a8a8a"/>
<circle cx="1190" cy="58.5" r="3" fill="#ff9800"/></svg><svg width="1364" height="644" viewBox="0 0 1364 644" style="left:0;top:0;z-index:12;pointer-events:none"><path d="M1179.3 46.3L1182.5 42.6L1185.7 46.3M1179.3 516.6L1182.5 520.3L1185.7 516.6" fill="none" stroke="#505050" stroke-width="2.1" stroke-linejoin="miter"/></svg>
<span class="t" id="t0" style="left:67px;top:12px;font-size:13.8px;color:#131722;font-weight:bold;-webkit-text-stroke:0;transform:scale(0.9052,1.0);transform-origin:0 14px;">AAPL</span>
<span class="t" id="t1" style="left:170px;top:12px;font-size:13.8px;color:#131722;letter-spacing:-1.97px;">D</span>
<span class="t" id="t2" style="left:268px;top:12px;font-size:13.8px;color:#131722;transform:scale(0.9515,1.0);transform-origin:0 14px;">Compare</span>
<span class="t" id="t3" style="left:370px;top:12px;font-size:13.8px;color:#131722;transform:scale(1.0363,1.0);transform-origin:0 14px;">Indicators</span>
<span class="t" id="t4" style="left:478px;top:12px;font-size:13.8px;color:#131722;transform:scale(0.9658,1.0);transform-origin:0 14px;">Financials</span>
<span class="t" id="t5" style="left:584px;top:12px;font-size:13.8px;color:#131722;transform:scale(1.0017,1.0);transform-origin:0 14px;">Templates</span>
<span class="t" id="t6" style="left:694px;top:12px;font-size:13.8px;color:#131722;transform:scale(1.0925,1.0);transform-origin:0 14px;">Alert</span>
<span class="t" id="t7" style="left:771px;top:12px;font-size:13.8px;color:#131722;transform:scale(0.9312,1.0);transform-origin:0 14px;">Replay</span>
<span class="t" id="t8" style="left:996.8px;top:12px;font-size:13.8px;color:#131722;transform:scale(0.9962,1.0);transform-origin:0 14px;">Unnamed</span>
<span class="t" id="t9" style="left:1215px;top:11px;font-size:15px;color:#fff;transform:scale(0.9146,1.0);transform-origin:0 15px;">Publish</span>
<span class="t" id="t10" style="left:64px;top:49px;font-size:15.6px;color:#131722;text-rendering:geometricPrecision;transform:scale(1.0149,1.0);transform-origin:0 15px;">Apple Inc</span>
<span class="t" id="t11" style="left:144px;top:49px;font-size:15.6px;color:#131722;text-rendering:geometricPrecision;letter-spacing:-0.80px;transform:scale(0.9000,1.0);transform-origin:0 15px;">1D</span>
<span class="t" id="t12" style="left:173px;top:49px;font-size:15.6px;color:#131722;text-rendering:geometricPrecision;letter-spacing:-0.42px;transform:scale(0.9000,1.0);transform-origin:0 15px;">NASDAQ</span>
<span class="t" id="t13" style="left:240.0px;top:47px;font-size:12.8px;color:#50535e;letter-spacing:-1.37px;">O</span>
<span class="t" id="t14" style="left:249.0px;top:47px;font-size:12.8px;color:#26a69a;transform:scale(1.0220,1.0);transform-origin:0 14px;">277.20</span>
<span class="t" id="t15" style="left:295.4px;top:47px;font-size:12.8px;color:#50535e;letter-spacing:-0.25px;">H</span>
<span class="t" id="t16" style="left:304.6px;top:47px;font-size:12.8px;color:#26a69a;transform:scale(1.0220,1.0);transform-origin:0 14px;">283.01</span>
<span class="t" id="t17" style="left:351.6px;top:47px;font-size:12.8px;color:#50535e;letter-spacing:-0.33px;">L</span>
<span class="t" id="t18" style="left:358.6px;top:47px;font-size:12.8px;color:#26a69a;transform:scale(1.0296,1.0);transform-origin:0 14px;">277.00</span>
<span class="t" id="t19" style="left:406.2px;top:47px;font-size:12.8px;color:#50535e;letter-spacing:-0.85px;">C</span>
<span class="t" id="t20" style="left:414.4px;top:47px;font-size:12.8px;color:#26a69a;transform:scale(1.0117,1.0);transform-origin:0 14px;">282.97</span>
<span class="t" id="t21" style="left:460.5px;top:47px;font-size:12.8px;color:#26a69a;transform:scale(0.9805,1.0);transform-origin:0 14px;">+7.94 (+2.89%)</span>
<span class="t" id="t22" style="left:1197px;top:49px;font-size:12px;color:#ff9800;transform:scale(1.0394,1.0);transform-origin:0 14px;">Pre Market</span>
<span class="t" id="t23" style="left:1279.5px;top:46px;font-size:12px;color:#131722;letter-spacing:-0.67px;transform:scale(0.9000,1.0);transform-origin:0 14px;">USD</span>
<span class="t" id="t24" style="left:1272px;top:86px;font-size:12px;color:#50535e;transform:scale(0.9264,1.0);transform-origin:0 14px;">320.00</span>
<span class="t" id="t25" style="left:1272px;top:131px;font-size:12px;color:#50535e;transform:scale(0.9264,1.0);transform-origin:0 14px;">300.00</span>
<span class="t" id="t26" style="left:1272px;top:175px;font-size:12px;color:#50535e;transform:scale(0.9264,1.0);transform-origin:0 14px;">280.00</span>
<span class="t" id="t27" style="left:1272px;top:220px;font-size:12px;color:#50535e;transform:scale(0.9264,1.0);transform-origin:0 14px;">260.00</span>
<span class="t" id="t28" style="left:1272px;top:264px;font-size:12px;color:#50535e;transform:scale(0.9264,1.0);transform-origin:0 14px;">240.00</span>
<span class="t" id="t29" style="left:1272px;top:309px;font-size:12px;color:#50535e;transform:scale(0.9264,1.0);transform-origin:0 14px;">220.00</span>
<span class="t" id="t30" style="left:1272px;top:353px;font-size:12px;color:#50535e;transform:scale(0.9264,1.0);transform-origin:0 14px;">200.00</span>
<span class="t" id="t31" style="left:1272px;top:398px;font-size:12px;color:#50535e;transform:scale(0.9264,1.0);transform-origin:0 14px;clip-path:inset(0 0 8px 0);">180.00</span>
<span class="t" id="t32" style="left:1272px;top:169px;font-size:12px;color:#fff;transform:scale(0.9127,1.0);transform-origin:0 14px;z-index:6;">282.97</span>
<span class="t" id="t33" style="left:132.0px;top:415px;font-size:12px;color:#50535e;transform:scale(0.9364,1.0);transform-origin:0 14px;">Sep</span>
<span class="t" id="t34" style="left:217.0px;top:415px;font-size:12px;color:#50535e;transform:scale(1.0711,1.0);transform-origin:0 14px;">Oct</span>
<span class="t" id="t35" style="left:315.4px;top:415px;font-size:12px;color:#50535e;transform:scale(0.9370,1.0);transform-origin:0 14px;">Nov</span>
<span class="t" id="t36" style="left:399.3px;top:415px;font-size:12px;color:#50535e;transform:scale(0.9370,1.0);transform-origin:0 14px;">Dec</span>
<span class="t" id="t37" style="left:485.8px;top:415px;font-size:12px;color:#50535e;font-weight:bold;-webkit-text-stroke:0;transform:scale(1.0111,1.0);transform-origin:0 14px;">2020</span>
<span class="t" id="t38" style="left:578.0px;top:415px;font-size:12px;color:#50535e;transform:scale(0.9668,1.0);transform-origin:0 14px;">Feb</span>
<span class="t" id="t39" style="left:658.0px;top:415px;font-size:12px;color:#50535e;transform:scale(1.0159,1.0);transform-origin:0 14px;">Mar</span>
<span class="t" id="t40" style="left:752.5px;top:415px;font-size:12px;color:#50535e;transform:scale(1.0167,1.0);transform-origin:0 14px;">Apr</span>
<span class="t" id="t41" style="left:840.0px;top:415px;font-size:12px;color:#50535e;transform:scale(0.9704,1.0);transform-origin:0 14px;">May</span>
<span class="t" id="t42" style="left:926.5px;top:415px;font-size:12px;color:#50535e;transform:scale(0.9814,1.0);transform-origin:0 14px;">Jun</span>
<span class="t" id="t43" style="left:1202.0px;top:415px;font-size:12px;color:#50535e;transform:scale(0.9364,1.0);transform-origin:0 14px;">Sep</span>
<span class="t" id="t44" style="left:70.6px;top:448px;font-size:13.8px;color:#131722;transform:scale(0.9070,1.0);transform-origin:0 14px;">1D</span>
<span class="t" id="t45" style="left:100.6px;top:448px;font-size:13.8px;color:#131722;transform:scale(0.9183,1.0);transform-origin:0 14px;">5D</span>
<span class="t" id="t46" style="left:130.4px;top:448px;font-size:13.8px;color:#131722;transform:scale(0.9702,1.0);transform-origin:0 14px;">1M</span>
<span class="t" id="t47" style="left:162.6px;top:448px;font-size:13.8px;color:#131722;transform:scale(0.9910,1.0);transform-origin:0 14px;">3M</span>
<span class="t" id="t48" style="left:194.2px;top:448px;font-size:13.8px;color:#131722;transform:scale(1.0171,1.0);transform-origin:0 14px;">6M</span>
<span class="t" id="t49" style="left:226.7px;top:448px;font-size:13.8px;color:#131722;letter-spacing:-0.31px;transform:scale(0.9000,1.0);transform-origin:0 14px;">YTD</span>
<span class="t" id="t50" style="left:264.6px;top:448px;font-size:13.8px;color:#131722;letter-spacing:-0.45px;transform:scale(0.9000,1.0);transform-origin:0 14px;">1Y</span>
<span class="t" id="t51" style="left:292.5px;top:448px;font-size:13.8px;color:#131722;transform:scale(0.9000,1.0);transform-origin:0 14px;">5Y</span>
<span class="t" id="t52" style="left:321.1px;top:448px;font-size:13.8px;color:#131722;transform:scale(0.9776,1.0);transform-origin:0 14px;">All</span>
<span class="t" id="t53" style="left:368.8px;top:448px;font-size:13.8px;color:#131722;transform:scale(1.0939,1.0);transform-origin:0 14px;">Go to...</span>
<span class="t" id="t54" style="left:1181px;top:448px;font-size:13.8px;color:#131722;transform:scale(1.0314,1.0);transform-origin:0 14px;">adj</span>
<span class="t" id="t55" style="left:1216px;top:448px;font-size:13.8px;color:#131722;letter-spacing:-0.28px;">%</span>
<span class="t" id="t56" style="left:1242px;top:448px;font-size:13.8px;color:#131722;transform:scale(1.0314,1.0);transform-origin:0 14px;">log</span>
<span class="t" id="t57" style="left:1275.6px;top:448px;font-size:13.8px;color:#2196f3;transform:scale(1.0611,1.0);transform-origin:0 14px;">auto</span>
<span class="t" id="t58" style="left:71.3px;top:490px;font-size:13.8px;color:#131722;transform:scale(1.0018,1.0);transform-origin:0 14px;">Stock Screener</span>
<span class="t" id="t59" style="left:206.3px;top:490px;font-size:13.8px;color:#131722;transform:scale(1.0309,1.0);transform-origin:0 14px;">Text Notes</span>
<span class="t" id="t60" style="left:307.7px;top:490px;font-size:13.8px;color:#2196f3;transform:scale(1.0222,1.0);transform-origin:0 14px;">Pine Editor</span>
<span class="t" id="t61" style="left:410.1px;top:490px;font-size:13.8px;color:#131722;transform:scale(1.0373,1.0);transform-origin:0 14px;">Strategy Tester</span>
<span class="t" id="t62" style="left:539.2px;top:490px;font-size:13.8px;color:#131722;transform:scale(0.9603,1.0);transform-origin:0 14px;">Trading Panel</span>
<span class="t" id="t63" style="left:99.5px;top:530px;font-size:12.8px;color:#666976;font-weight:bold;-webkit-text-stroke:0;font-style:italic;transform:scale(0.9548,1.0);transform-origin:0 14px;">Untitled Script</span>
<span class="t" id="t64" style="left:889.4px;top:530px;font-size:12.8px;color:#4f5366;transform:scale(0.9261,1.0);transform-origin:0 14px;">Open</span>
<span class="t" id="t65" style="left:946.6px;top:530px;font-size:12.8px;color:#69c0ee;transform:scale(0.9176,1.0);transform-origin:0 14px;">New</span>
<span class="t" id="t66" style="left:1008.2px;top:530px;font-size:12.8px;color:#4f5366;letter-spacing:-0.77px;transform:scale(0.9000,1.0);transform-origin:0 14px;">Save</span>
<span class="t" id="t67" style="left:1059.2px;top:530px;font-size:12.8px;color:#4f5366;transform:scale(0.9880,1.0);transform-origin:0 14px;">Add to Chart</span>
<span class="t" id="t68" style="left:1157.4px;top:530px;font-size:12.8px;color:#4f5366;transform:scale(0.9712,1.0);transform-origin:0 14px;">Publish Script</span>
<span class="t" id="t69" style="left:1260.4px;top:530px;font-size:12.8px;color:#4f5366;transform:scale(0.9116,1.0);transform-origin:0 14px;">Help</span>
<span class="t" id="t70" style="left:78.5px;top:559px;font-size:11.5px;color:#444;font-family:"Liberation Mono",monospace;-webkit-text-stroke:0;">1</span>
<span class="t" id="t71" style="left:941px;top:522px;font-size:13.8px;color:#4a4a4f;transform:scale(0.9680,1.0);transform-origin:0 14px;z-index:11;clip-path:inset(0 0 15px 0);">Bollinger Bands Strategy</span>
<span class="t" id="t72" style="left:941px;top:41px;font-size:13.8px;color:#4a4a4f;transform:scale(1.0495,1.0);transform-origin:0 14px;z-index:11;">Blank indicator script</span>
<span class="t" id="t73" style="left:941px;top:71px;font-size:13.8px;color:#4a4a4f;transform:scale(1.0376,1.0);transform-origin:0 14px;z-index:11;">Blank strategy script</span>
<span class="t" id="t74" style="left:941px;top:102px;font-size:13.8px;color:#4a4a4f;transform:scale(1.0760,1.0);transform-origin:0 14px;z-index:11;">Accumulation/Distribution</span>
<span class="t" id="t75" style="left:941px;top:132px;font-size:13.8px;color:#4a4a4f;transform:scale(1.0145,1.0);transform-origin:0 14px;z-index:11;">Advance Decline Line</span>
<span class="t" id="t76" style="left:941px;top:162px;font-size:13.8px;color:#4a4a4f;transform:scale(1.0158,1.0);transform-origin:0 14px;z-index:11;">Advance Decline Ratio</span>
<span class="t" id="t77" style="left:941px;top:192px;font-size:13.8px;color:#4a4a4f;transform:scale(1.0205,1.0);transform-origin:0 14px;z-index:11;">Advance/Decline Ratio (Bars)</span>
<span class="t" id="t78" style="left:941px;top:222px;font-size:13.8px;color:#4a4a4f;z-index:11;">Arnaud Legoux Moving Average</span>
<span class="t" id="t79" style="left:941px;top:252px;font-size:13.8px;color:#4a4a4f;transform:scale(1.0020,1.0);transform-origin:0 14px;z-index:11;">Aroon</span>
<span class="t" id="t80" style="left:941px;top:282px;font-size:13.8px;color:#4a4a4f;transform:scale(1.0335,1.0);transform-origin:0 14px;z-index:11;">Auto Fib Retracement</span>
<span class="t" id="t81" style="left:941px;top:312px;font-size:13.8px;color:#4a4a4f;transform:scale(1.0250,1.0);transform-origin:0 14px;z-index:11;">Average Directional Index</span>
<span class="t" id="t82" style="left:941px;top:342px;font-size:13.8px;color:#4a4a4f;transform:scale(0.9624,1.0);transform-origin:0 14px;z-index:11;">Average True Range</span>
<span class="t" id="t83" style="left:941px;top:372px;font-size:13.8px;color:#4a4a4f;z-index:11;">Awesome Oscillator</span>
<span class="t" id="t84" style="left:941px;top:402px;font-size:13.8px;color:#4a4a4f;transform:scale(0.9959,1.0);transform-origin:0 14px;z-index:11;">Balance of Power</span>
<span class="t" id="t85" style="left:941px;top:432px;font-size:13.8px;color:#4a4a4f;transform:scale(0.9860,1.0);transform-origin:0 14px;z-index:11;">BarUpDn Strategy</span>
<span class="t" id="t86" style="left:941px;top:462px;font-size:13.8px;color:#4a4a4f;transform:scale(0.9768,1.0);transform-origin:0 14px;z-index:11;">Bollinger Bands</span>
<span class="t" id="t87" style="left:941px;top:492px;font-size:13.8px;color:#4a4a4f;transform:scale(0.9389,1.0);transform-origin:0 14px;z-index:11;">Bollinger Bands %B</span>
<span class="t" id="t88" style="left:72.5px;top:383px;font-size:12px;color:#2196f3;font-weight:bold;-webkit-text-stroke:0;letter-spacing:-1.87px;">D</span>
<span class="t" id="t89" style="left:314.9px;top:383px;font-size:12px;color:#f0616d;font-weight:bold;-webkit-text-stroke:0;letter-spacing:-2.62px;">E</span>
<span class="t" id="t90" style="left:340.29999999999995px;top:383px;font-size:12px;color:#2196f3;font-weight:bold;-webkit-text-stroke:0;letter-spacing:-1.87px;">D</span>
<span class="t" id="t91" style="left:569.8px;top:383px;font-size:12px;color:#f0616d;font-weight:bold;-webkit-text-stroke:0;letter-spacing:-2.62px;">E</span>
<span class="t" id="t92" style="left:603.3px;top:383px;font-size:12px;color:#2196f3;font-weight:bold;-webkit-text-stroke:0;letter-spacing:-1.87px;">D</span>
<span class="t" id="t93" style="left:845.6999999999999px;top:383px;font-size:12px;color:#f0616d;font-weight:bold;-webkit-text-stroke:0;letter-spacing:-2.62px;">E</span>
<span class="t" id="t94" style="left:19.2px;top:307px;font-size:21.5px;color:#0c0f18;font-weight:bold;-webkit-text-stroke:0;letter-spacing:0.23px;">£</span>
</body></html>
